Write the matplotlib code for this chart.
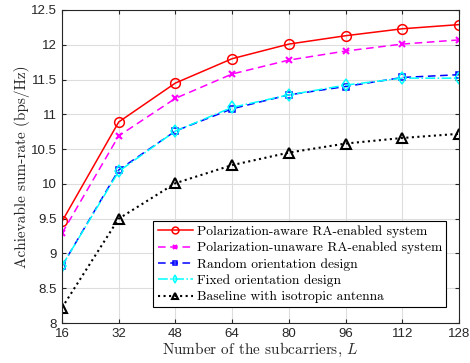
import numpy as np
import matplotlib
matplotlib.use('Agg')
import matplotlib.pyplot as plt

plt.rcParams['mathtext.fontset'] = 'cm'

L = [16, 32, 48, 64, 80, 96, 112, 128]
aware = [9.46, 10.89, 11.45, 11.80, 12.01, 12.13, 12.23, 12.29]
unaware = [9.29, 10.69, 11.23, 11.58, 11.78, 11.91, 12.01, 12.07]
random_orient = [8.82, 10.20, 10.76, 11.08, 11.28, 11.40, 11.53, 11.57]
fixed_orient = [8.82, 10.18, 10.76, 11.10, 11.28, 11.42, 11.52, 11.52]
isotropic = [8.22, 9.50, 10.01, 10.27, 10.45, 10.58, 10.66, 10.72]

labels = ['Polarization-aware RA-enabled system',
          'Polarization-unaware RA-enabled system',
          'Random orientation design',
          'Fixed orientation design',
          'Baseline with isotropic antenna']

serif = {'family': 'cmr10', 'size': 11, 'color': '#262626'}

fig = plt.figure(figsize=(4.7, 3.63), dpi=100)
ax = fig.add_axes([62/470, 1-323/363, (459-62)/470, (323-10)/363])

ax.plot(L, aware, 'r-o', lw=1.1, ms=7, mfc='none', mew=1.1, label=labels[0])
ax.plot(L, unaware, '--x', color='magenta', lw=1.1, ms=5, mew=1.5, dashes=(5, 3), label=labels[1])
ax.plot(L, random_orient, '--s', color='blue', lw=1.1, ms=5, mfc='none', mew=1.1, dashes=(5, 3), label=labels[2])
ax.plot(L, fixed_orient, '-.d', color='cyan', lw=1.1, ms=6, mfc='none', mew=1.1, label=labels[3])
ax.plot(L, isotropic, ':^', color='black', lw=1.5, ms=7, mfc='none', mew=1.5, label=labels[4])

ax.set_xlim(16, 128)
ax.set_ylim(8, 12.5)
ax.set_xticks(L)
yt = np.arange(8, 12.51, 0.5)
ax.set_yticks(yt)
ax.set_yticklabels(['%g' % v for v in yt])
ax.tick_params(labelsize=9.5, direction='in', length=3, top=True, right=True,
               colors='#262626')
for lab in ax.get_xticklabels() + ax.get_yticklabels():
    lab.set_family('Liberation Sans')
ax.grid(True, color='#dddddd', lw=0.8)
ax.set_axisbelow(True)
for s in ax.spines.values():
    s.set_color('#262626')
    s.set_linewidth(0.8)

ax.set_xlabel('Number of the subcarriers, $L$', fontdict=serif, labelpad=1)
ax.set_ylabel('Achievable sum-rate (bps/Hz)', fontdict=serif, labelpad=1)

leg = ax.legend(loc='lower right', bbox_to_anchor=(0.967, 0.05), prop={'family': 'cmr10', 'size': 9.7},
                fancybox=False, edgecolor='black', framealpha=1, handlelength=2.6,
                handletextpad=0.3, borderpad=0.3, labelspacing=0.28, borderaxespad=0,
                markerscale=0.7)
leg.get_frame().set_linewidth(0.8)

fig.savefig('out.png', dpi=100)
